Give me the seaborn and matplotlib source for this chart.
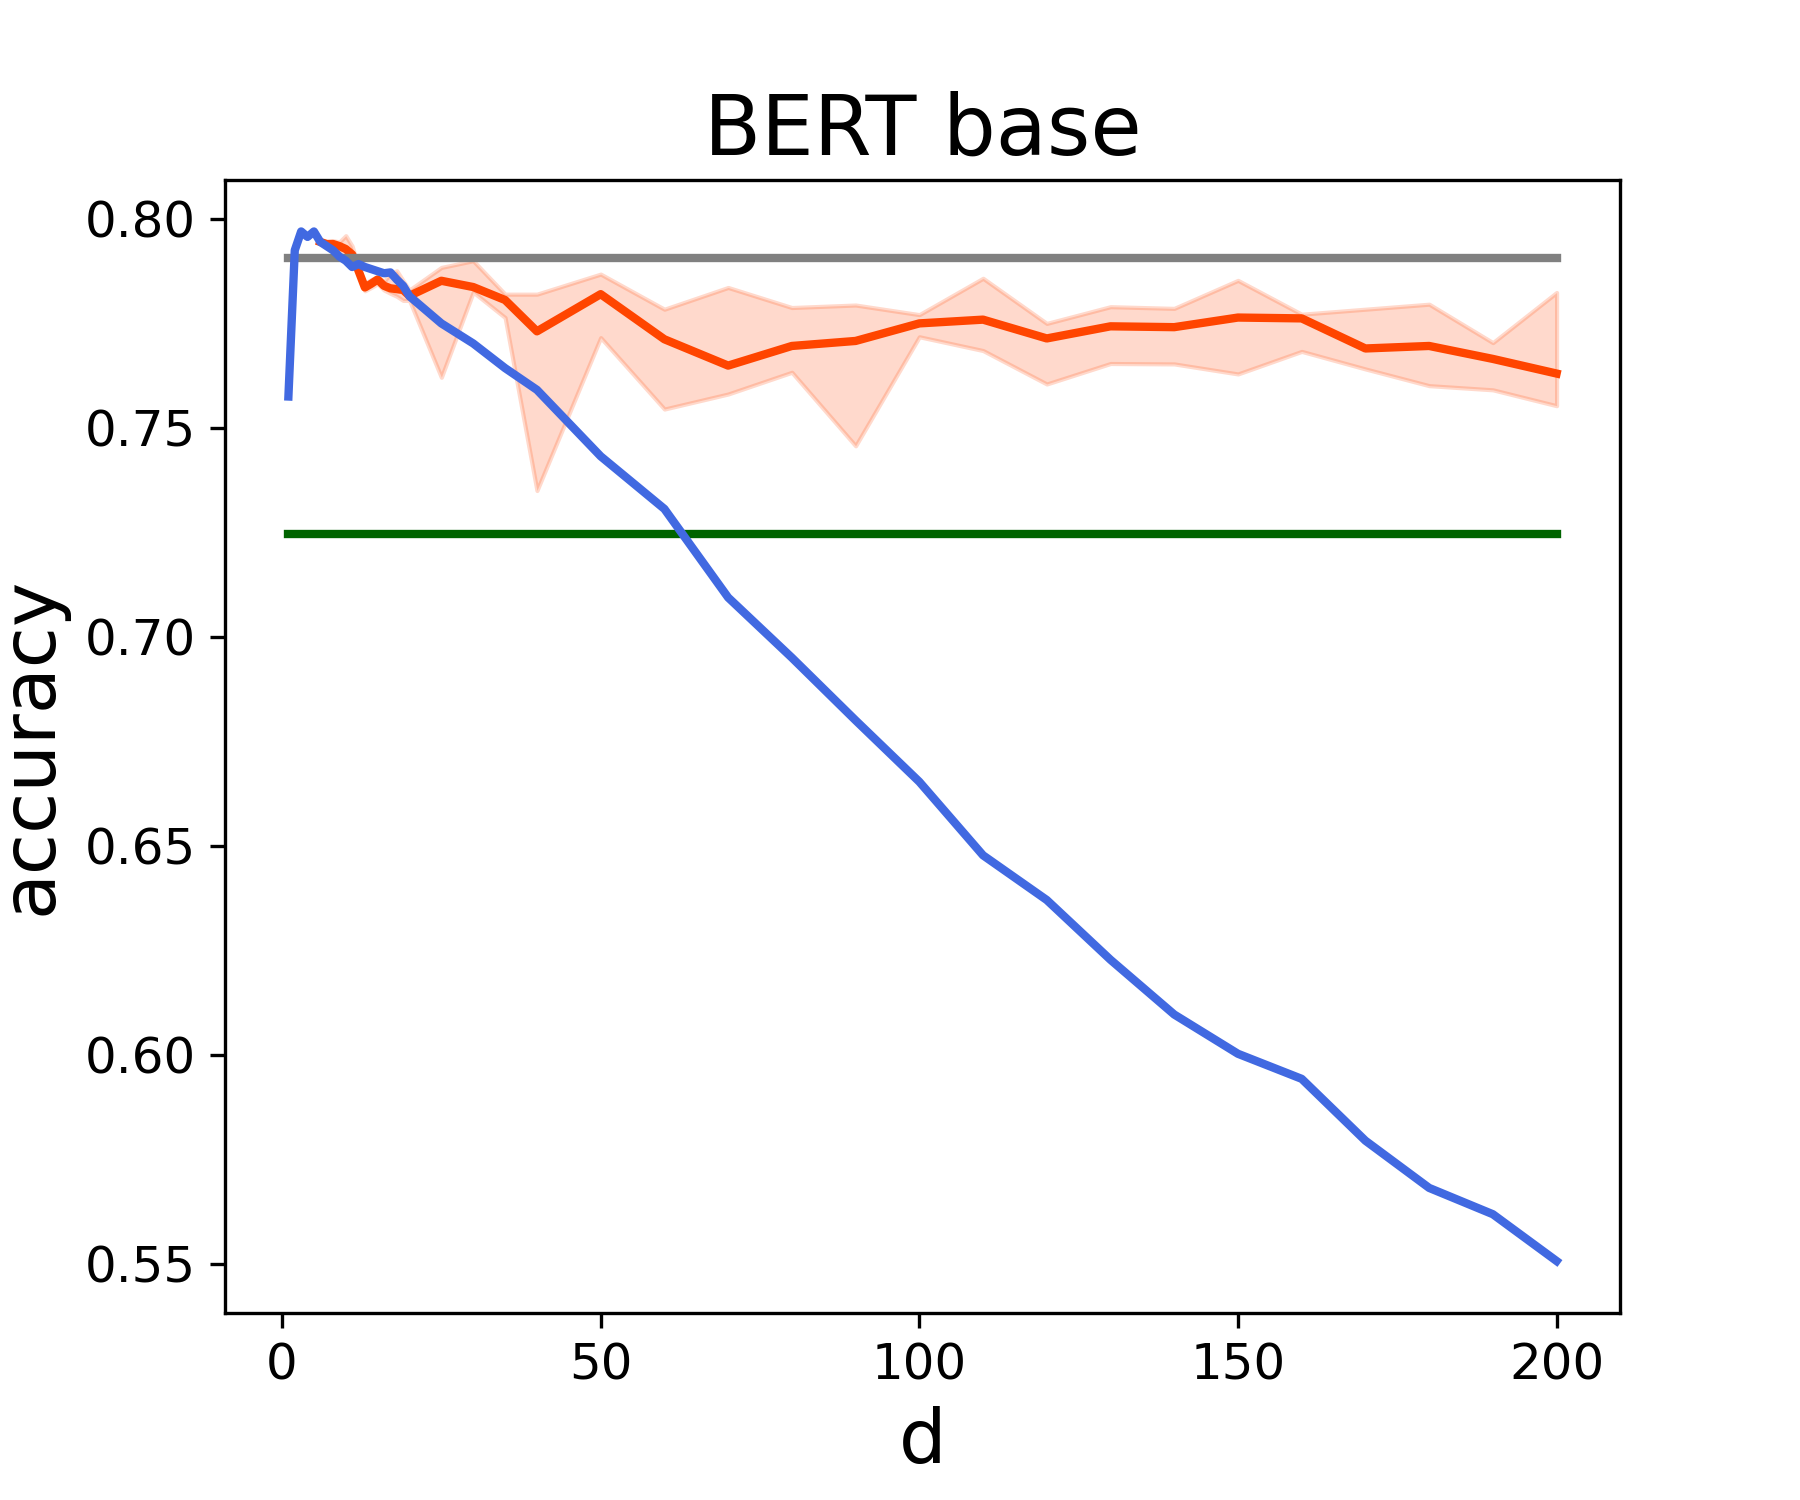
import numpy as np
import pandas as pd
import matplotlib
matplotlib.use("Agg")
import matplotlib.pyplot as plt
import seaborn as sns

# blue curve (one value per d)
d_blue = list(range(1, 21)) + [25, 30, 35, 40] + list(range(50, 201, 10))
acc_blue = [0.7575, 0.7925, 0.7970, 0.7957, 0.7970, 0.7945, 0.7935, 0.7925, 0.7910, 0.7900,
            0.7885, 0.7892, 0.7885, 0.7880, 0.7875, 0.7870, 0.7872, 0.7855, 0.7840, 0.7815,
            0.7750, 0.7702, 0.7643, 0.7591,
            0.7432, 0.7306, 0.7094, 0.6950, 0.6800, 0.6653, 0.6477, 0.6370, 0.6227, 0.6096,
            0.6002, 0.5942, 0.5794, 0.5681, 0.5618, 0.5506]

# orange curve with min / max band
d_orange = list(range(6, 21)) + [25, 30, 35, 40] + list(range(50, 201, 10))
acc_orange = [0.7945, 0.7940, 0.7940, 0.7935, 0.7928, 0.7915, 0.7876, 0.7836, 0.7845, 0.7855,
              0.7840, 0.7834, 0.7832, 0.7830, 0.7816,
              0.7852, 0.7837, 0.7806, 0.7731,
              0.7820, 0.7712, 0.7649, 0.7696, 0.7708, 0.7750, 0.7759, 0.7714, 0.7743, 0.7741,
              0.7764, 0.7762, 0.7690, 0.7696, 0.7665, 0.7630]
acc_orange_hi = [0.7950, 0.7945, 0.7948, 0.7945, 0.7960, 0.7935, 0.7885, 0.7845, 0.7855, 0.7862,
                 0.7850, 0.7870, 0.7876, 0.7852, 0.7830,
                 0.7884, 0.7900, 0.7820, 0.7820,
                 0.7868, 0.7784, 0.7836, 0.7788, 0.7794, 0.7771, 0.7858, 0.7750, 0.7790, 0.7786,
                 0.7853, 0.7772, 0.7784, 0.7796, 0.7704, 0.7824]
acc_orange_lo = [0.7940, 0.7935, 0.7932, 0.7925, 0.7920, 0.7905, 0.7866, 0.7828, 0.7836, 0.7845,
                 0.7830, 0.7822, 0.7815, 0.7805, 0.7805,
                 0.7621, 0.7825, 0.7764, 0.7350,
                 0.7716, 0.7545, 0.7581, 0.7633, 0.7457, 0.7718, 0.7685, 0.7605, 0.7654, 0.7653,
                 0.7629, 0.7683, 0.7641, 0.7601, 0.7591, 0.7553]

# flat reference lines
d_flat = [1, 200]
acc_gray = 0.7907
acc_green = 0.7247

blue = pd.DataFrame({"d": d_blue, "acc": acc_blue})
orange = pd.DataFrame({"d": d_orange, "acc": acc_orange, "lo": acc_orange_lo, "hi": acc_orange_hi})

fig, ax = plt.subplots(figsize=(6, 5), dpi=300)
fig.subplots_adjust(left=0.125, right=0.9, top=0.88, bottom=0.125)

ax.fill_between(orange["d"], orange["lo"], orange["hi"], color="orangered", alpha=0.2)
sns.lineplot(data=orange, x="d", y="acc", color="orangered", linewidth=2, ax=ax)
sns.lineplot(x=d_flat, y=[acc_gray] * 2, color="gray", linewidth=2, ax=ax)
sns.lineplot(x=d_flat, y=[acc_green] * 2, color="darkgreen", linewidth=2, ax=ax)
sns.lineplot(data=blue, x="d", y="acc", color="royalblue", linewidth=2, ax=ax)

ax.set_title("BERT base", fontsize=20)
ax.set_xlabel("d", fontsize=18)
ax.set_ylabel("accuracy", fontsize=18)
ax.tick_params(labelsize=12)
ax.set_xticks([0, 50, 100, 150, 200])
ax.set_yticks([0.55, 0.60, 0.65, 0.70, 0.75, 0.80])

fig.savefig("out.png", dpi=300)
